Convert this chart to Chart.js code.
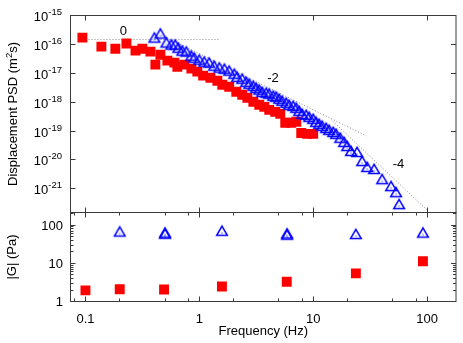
<!DOCTYPE html>
<html>
<head>
<meta charset="utf-8">
<script src="https://cdn.jsdelivr.net/npm/chart.js"></script>
<style>
  html, body { margin: 0; padding: 0; background: #fff; }
  #wrap { position: relative; width: 463px; height: 343px; }
  #wrap canvas { position: absolute; left: 0; top: 0; }
</style>
</head>
<body>
<div id="wrap">
  <canvas id="psdChart" width="463" height="343"></canvas>
  <canvas id="modChart" width="463" height="343"></canvas>
</div>
<script>
// displacement PSD, red squares
const psdFreqRed = [0.094, 0.138, 0.183, 0.229, 0.275, 0.316, 0.372, 0.411, 0.455, 0.524, 0.604, 0.641, 0.738, 0.851, 0.96,
  1.08, 1.25, 1.44, 1.59, 1.83, 2.11, 2.38, 2.64, 2.98, 3.36, 3.72, 4.11, 4.64, 5.14, 5.68, 6.41, 7.1, 7.85, 8.85, 10.0];
const psdRed = [1.72e-16, 8.4e-17, 7.1e-17, 1.07e-16, 6.1e-17, 7.1e-17, 5.6e-17, 2.0e-17, 4.4e-17, 2.74e-17, 2.33e-17, 1.69e-17, 2.0e-17, 1.45e-17, 1.14e-17,
  8.3e-18, 7.0e-18, 5.5e-18, 4.0e-18, 3.4e-18, 2.3e-18, 1.8e-18, 1.42e-18, 1.03e-18, 8.1e-19, 6.9e-19, 5.4e-19, 4.6e-19, 3.95e-19, 1.93e-19, 1.93e-19, 2.09e-19, 8.6e-20, 8.0e-20, 8.0e-20];

// displacement PSD, blue triangles
const psdFreqBlue = [0.403, 0.455, 0.514, 0.568, 0.615, 0.654, 0.709, 0.769, 0.851, 0.904, 1.0, 1.106, 1.22, 1.35, 1.50,
  1.66, 1.83, 2.03, 2.15, 2.38, 2.58, 2.75, 2.98, 3.16, 3.36, 3.57, 3.87, 4.11, 4.46, 4.73, 5.03, 5.35, 5.80, 6.15, 6.68,
  7.10, 7.54, 8.01, 8.68, 9.23, 10.0, 10.6, 11.3, 12.0, 13.0, 13.8, 15.0, 15.9, 17.3, 18.7, 19.9, 21.5, 24.3, 26.9, 29.8,
  34.3, 40.3, 48.3, 53.4, 56.8];
const psdBlue = [1.59e-16, 2.19e-16, 1.07e-16, 9.1e-17, 9.1e-17, 7.1e-17, 5.6e-17, 5.2e-17, 3.77e-17, 3.2e-17, 2.74e-17, 2.33e-17, 2.15e-17, 1.69e-17, 1.45e-17,
  1.33e-17, 1.14e-17, 8.9e-18, 7.0e-18, 6.0e-18, 4.7e-18, 4.0e-18, 3.4e-18, 2.9e-18, 2.5e-18, 2.1e-18, 1.96e-18, 1.81e-18, 1.54e-18, 1.42e-18, 1.21e-18, 1.03e-18, 8.8e-19, 7.5e-19, 6.9e-19,
  5.9e-19, 4.64e-19, 3.65e-19, 3.37e-19, 2.87e-19, 2.45e-19, 1.93e-19, 1.64e-19, 1.40e-19, 1.19e-19, 1.02e-19, 8.66e-20, 7.4e-20, 5.4e-20, 3.9e-20, 2.8e-20, 1.90e-20, 1.75e-20, 8.5e-21, 5.3e-21,
  4.5e-21, 2.0e-21, 1.15e-21, 7.1e-22, 2.74e-22];

// power-law guide lines (slopes 0, -2, -4)
const guideFreq0 = [0.1, 1.51];
const guidePsd0 = [1.48e-16, 1.48e-16];
const guideFreq2 = [0.466, 29.3];
const guidePsd2 = [2.1e-16, 6.8e-20];
const guideFreq4 = [14.8, 100];
const guidePsd4 = [2.22e-19, 1.85e-22];
const slopeText = ['0', '-2', '-4'];
const slopeFreq = [0.215, 4.44, 56.2];
const slopePsd = [2.73e-16, 6.7e-18, 7.0e-21];

// |G| panel
const modFreqRed = [0.1, 0.2, 0.49, 1.58, 5.86, 23.7, 92];
const modRed = [1.95, 2.1, 2.07, 2.48, 3.3, 5.45, 11.3];
const modFreqBlue = [0.2, 0.5, 0.5, 1.58, 5.9, 5.9, 23.7, 92];
const modBlue = [64, 56, 60, 67, 53, 57, 55, 60];

// tick labels
const freqTicks = [0.1, 1, 10, 100];
const freqLabels = ['0.1', '1', '10', '100'];
const psdTicks = [1e-15, 1e-16, 1e-17, 1e-18, 1e-19, 1e-20, 1e-21];
const modTicks = [1, 10, 100];
const modLabels = ['1', '10', '100'];

const FONT = '"Liberation Sans", Arial, Helvetica, sans-serif';
const frameColor = '#3a3a3a';
const xMin = 0.0739, xMax = 179.5;

function pts(xs, ys) { return xs.map((v, i) => ({x: v, y: ys[i]})); }
function snap(v) { return Math.round(v - 0.5) + 0.5; }
function line(ctx, x1, y1, x2, y2) { ctx.beginPath(); ctx.moveTo(x1, y1); ctx.lineTo(x2, y2); ctx.stroke(); }

// open triangle with a small centre dot, like the gnuplot point
function makeTriangle() {
  const c = document.createElement('canvas');
  c.width = 16; c.height = 16;
  const g = c.getContext('2d');
  const cx = 8, cy = 8.5, r = 6.2;
  g.strokeStyle = '#0000ff';
  g.lineWidth = 1.5;
  g.beginPath();
  for (let i = 0; i < 3; i++) {
    const a = i * 2 * Math.PI / 3;
    g.lineTo(cx + Math.sin(a) * r, cy - Math.cos(a) * r);
  }
  g.closePath();
  g.stroke();
  g.fillStyle = '#0000ff';
  g.fillRect(cx - 0.5, cy, 1, 1);
  return c;
}
const tri = makeTriangle();

// draw a rotated title made of [text, size, raise] parts
function rotatedTitle(ctx, parts, x, y) {
  ctx.save();
  ctx.translate(x, y);
  ctx.rotate(-Math.PI / 2);
  let total = 0;
  parts.forEach(p => { ctx.font = p[1] + 'px ' + FONT; total += ctx.measureText(p[0]).width; });
  let cx = -total / 2;
  ctx.textAlign = 'left';
  ctx.textBaseline = 'alphabetic';
  parts.forEach(p => {
    ctx.font = p[1] + 'px ' + FONT;
    ctx.fillText(p[0], cx, p[2]);
    cx += ctx.measureText(p[0]).width;
  });
  ctx.restore();
}

const psdDecor = {
  id: 'psdDecor',
  afterDraw(chart) {
    const {ctx, chartArea: a, scales: {x, y}} = chart;
    ctx.save();
    ctx.strokeStyle = frameColor;
    ctx.lineWidth = 1;
    ctx.strokeRect(a.left, a.top, a.right - a.left, a.bottom - a.top);
    psdTicks.forEach(v => {
      const py = snap(y.getPixelForValue(v));
      line(ctx, a.left, py, a.left + 5, py);
      line(ctx, a.right - 5, py, a.right, py);
    });
    freqTicks.forEach(v => {
      const px = snap(x.getPixelForValue(v));
      line(ctx, px, a.top, px, a.top + 5);
      line(ctx, px, a.bottom - 5, px, a.bottom);
    });

    ctx.fillStyle = '#000';
    ctx.textBaseline = 'alphabetic';
    psdTicks.forEach(v => {
      const py = y.getPixelForValue(v);
      const exp = String(Math.round(Math.log10(v)));
      ctx.font = '9.5px ' + FONT;
      const ew = ctx.measureText(exp).width;
      const right = a.left - 8.5;
      ctx.textAlign = 'left';
      ctx.fillText(exp, right - ew, py - 0.5);
      ctx.font = '13px ' + FONT;
      ctx.textAlign = 'right';
      ctx.fillText('10', right - ew, py + 5.5);
    });

    ctx.font = '13px ' + FONT;
    ctx.textAlign = 'center';
    ctx.textBaseline = 'middle';
    slopeText.forEach((t, i) => {
      ctx.fillText(t, x.getPixelForValue(slopeFreq[i]), y.getPixelForValue(slopePsd[i]));
    });

    rotatedTitle(ctx, [['Displacement PSD (m', 13, 0], ['2', 9.5, -5], ['s)', 13, 0]], 16.5, (a.top + a.bottom) / 2);
    ctx.restore();
  }
};

const modDecor = {
  id: 'modDecor',
  afterDraw(chart) {
    const {ctx, chartArea: a, scales: {x, y}} = chart;
    ctx.save();
    ctx.strokeStyle = frameColor;
    ctx.lineWidth = 1;
    ctx.strokeRect(a.left, a.top, a.right - a.left, a.bottom - a.top);
    modTicks.forEach(v => {
      const py = snap(y.getPixelForValue(v));
      line(ctx, a.left, py, a.left + 5, py);
      line(ctx, a.right - 5, py, a.right, py);
      for (let m = 2; m <= 9; m++) {
        const mv = v * m;
        if (mv > y.max) break;
        const my = snap(y.getPixelForValue(mv));
        line(ctx, a.left, my, a.left + 3, my);
        line(ctx, a.right - 3, my, a.right, my);
      }
    });
    freqTicks.forEach(v => {
      const px = snap(x.getPixelForValue(v));
      line(ctx, px, a.top, px, a.top + 5);
      line(ctx, px, a.bottom - 5, px, a.bottom);
    });
    [0.01, 0.1, 1, 10].forEach(d => {
      [2, 5, 8].forEach(m => {
        const mv = d * m;
        if (mv < x.min || mv > x.max) return;
        const px = snap(x.getPixelForValue(mv));
        line(ctx, px, a.top, px, a.top + 3);
        line(ctx, px, a.bottom - 3, px, a.bottom);
      });
    });

    ctx.fillStyle = '#000';
    ctx.font = '13px ' + FONT;
    ctx.textBaseline = 'alphabetic';
    ctx.textAlign = 'right';
    modTicks.forEach((v, i) => {
      ctx.fillText(modLabels[i], a.left - 7.5, y.getPixelForValue(v) + 4.5);
    });
    ctx.textAlign = 'center';
    freqTicks.forEach((v, i) => {
      ctx.fillText(freqLabels[i], x.getPixelForValue(v), a.bottom + 21);
    });
    ctx.fillText('Frequency (Hz)', (a.left + a.right) / 2, 335);

    rotatedTitle(ctx, [['|G| (Pa)', 13, 0]], 16, (a.top + a.bottom) / 2);
    ctx.restore();
  }
};

const psdChart = new Chart(document.getElementById('psdChart'), {
  type: 'scatter',
  data: {
    datasets: [
      {
        label: 'triangles',
        data: pts(psdFreqBlue, psdBlue),
        pointStyle: tri,
        pointRadius: 6
      },
      {
        label: 'squares',
        data: pts(psdFreqRed, psdRed),
        pointStyle: 'rect',
        pointRadius: 7,
        backgroundColor: '#ff0000',
        borderWidth: 0
      },
      {
        label: 'slope 0',
        data: pts(guideFreq0, guidePsd0),
        showLine: true, pointRadius: 0,
        borderColor: '#8a8a8a', borderWidth: 1, borderDash: [1, 2]
      },
      {
        label: 'slope -2',
        data: pts(guideFreq2, guidePsd2),
        showLine: true, pointRadius: 0,
        borderColor: '#8a8a8a', borderWidth: 1, borderDash: [1, 2]
      },
      {
        label: 'slope -4',
        data: pts(guideFreq4, guidePsd4),
        showLine: true, pointRadius: 0,
        borderColor: '#8a8a8a', borderWidth: 1, borderDash: [1, 2]
      }
    ]
  },
  options: {
    responsive: false,
    animation: false,
    layout: { padding: { left: 70.5, right: 6.5, top: 15.5, bottom: 130.5 } },
    scales: {
      x: { type: 'logarithmic', min: xMin, max: xMax, display: false },
      y: { type: 'logarithmic', min: 1.52e-22, max: 1e-15, display: false }
    },
    plugins: { legend: { display: false }, tooltip: { enabled: false } }
  },
  plugins: [psdDecor]
});

const modChart = new Chart(document.getElementById('modChart'), {
  type: 'scatter',
  data: {
    datasets: [
      {
        label: 'triangles',
        data: pts(modFreqBlue, modBlue),
        pointStyle: tri,
        pointRadius: 6
      },
      {
        label: 'squares',
        data: pts(modFreqRed, modRed),
        pointStyle: 'rect',
        pointRadius: 7,
        backgroundColor: '#ff0000',
        borderWidth: 0
      }
    ]
  },
  options: {
    responsive: false,
    animation: false,
    layout: { padding: { left: 70.5, right: 6.5, top: 212.5, bottom: 41.5 } },
    scales: {
      x: { type: 'logarithmic', min: xMin, max: xMax, display: false },
      y: { type: 'logarithmic', min: 1, max: 214, display: false }
    },
    plugins: { legend: { display: false }, tooltip: { enabled: false } }
  },
  plugins: [modDecor]
});
</script>
</body>
</html>
